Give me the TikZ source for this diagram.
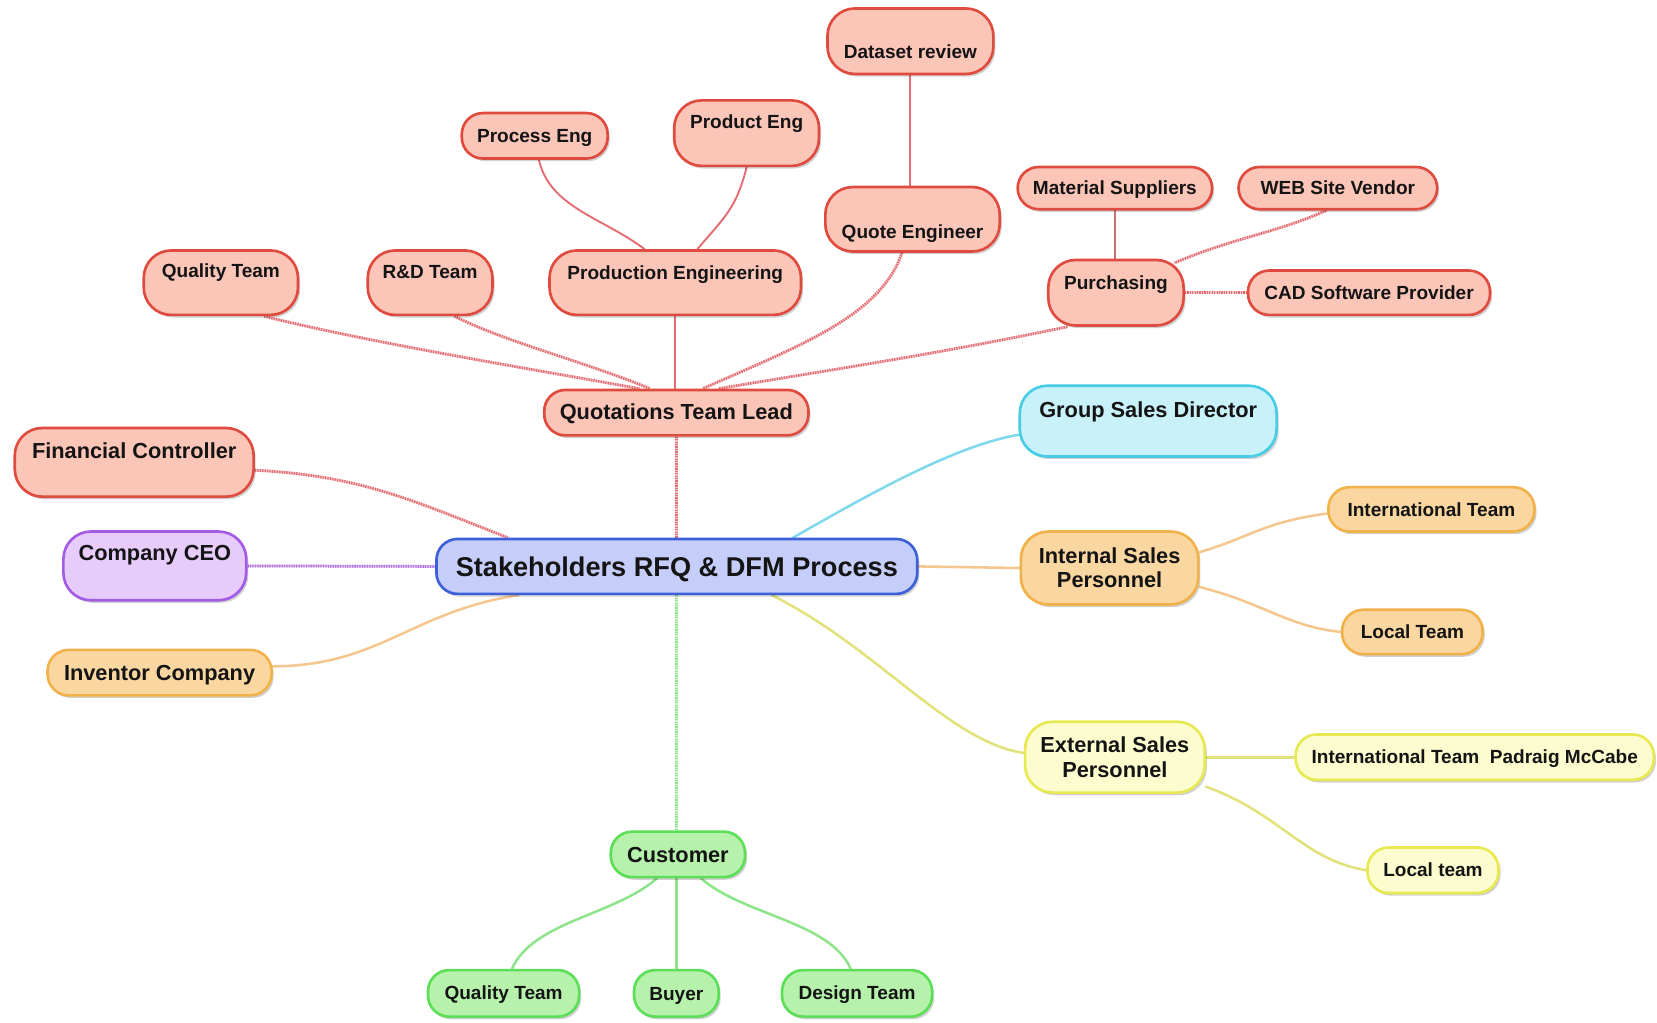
\documentclass[tikz,border=0pt]{standalone}
\usepackage{fontspec}
\setmainfont{Liberation Sans}
\usetikzlibrary{calc,shadows,backgrounds}

% box outlines and fills
\definecolor{redline}{HTML}{E04B3F}   \definecolor{redfill}{HTML}{FBC5B8}
\definecolor{blueline}{HTML}{3D5FD8}  \definecolor{bluefill}{HTML}{C5CDF9}
\definecolor{cyanline}{HTML}{45CDE6}  \definecolor{cyanfill}{HTML}{C9F1FA}
\definecolor{purpline}{HTML}{A35BE6}  \definecolor{purpfill}{HTML}{E6CBFB}
\definecolor{orline}{HTML}{F2B24A}    \definecolor{orfill}{HTML}{FAD6A0}
\definecolor{yelline}{HTML}{E8E850}   \definecolor{yelfill}{HTML}{FCFCCF}
\definecolor{grline}{HTML}{5CDE58}    \definecolor{grfill}{HTML}{B6F2AC}
% connector colours
\definecolor{redlink}{HTML}{E46C72}
\definecolor{cyanlink}{HTML}{7FD8EC}
\definecolor{purplink}{HTML}{B070E0}
\definecolor{orlink}{HTML}{F5C78E}
\definecolor{yellink}{HTML}{E2E27A}
\definecolor{grlink}{HTML}{8EE48A}

\tikzset{
  mmbox/.style={draw, rounded corners=20pt, line width=2.5pt, inner sep=0pt,
    text=black!92,
    drop shadow={shadow xshift=2pt, shadow yshift=-2.5pt, opacity=0.18, fill=black}},
  tall/.style={rounded corners=26pt},
  redbox/.style={mmbox, draw=redline, fill=redfill},
  bluebox/.style={mmbox, draw=blueline, fill=bluefill},
  cyanbox/.style={mmbox, draw=cyanline, fill=cyanfill},
  purpbox/.style={mmbox, draw=purpline, fill=purpfill},
  orbox/.style={mmbox, draw=orline, fill=orfill},
  yelbox/.style={mmbox, draw=yelline, fill=yelfill},
  grbox/.style={mmbox, draw=grline, fill=grfill},
  small/.style={font=\bfseries\fontsize{18}{21}\selectfont},
  mid/.style={font=\bfseries\fontsize{20.6}{23}\selectfont},
  big/.style={font=\bfseries\fontsize{25.7}{30}\selectfont},
  % width, space above the baseline, space below the baseline
  geo/.style n args={3}{minimum width=#1pt, text height=#2pt, text depth=#3pt, anchor=base},
  dotlink/.style={line width=2.6pt, color=#1, dash pattern=on 1.2pt off 1.1pt,
    preaction={draw, solid, line width=2.6pt, color=#1!40}},
  link/.style={line width=2.4pt, color=#1, line cap=round},
}

\begin{document}
\begin{tikzpicture}[x=1pt, y=-1pt]
\useasboundingbox (0,0) rectangle (1568,968);

% central topic
\node[bluebox, big, geo={455}{35.2}{16.8}] (center) at (640.5,545.2) {Stakeholders RFQ \& DFM Process};

% quotation branch
\node[redbox, mid, geo={250}{28.4}{14.6}] (qtl) at (640,397.4) {Quotations Team Lead};
\node[redbox, tall, small, geo={146}{25.5}{35.5}] (qualtop) at (209,262.5) {Quality Team};
\node[redbox, tall, small, geo={118}{26.5}{34.5}] (rnd) at (407,263.5) {R\&D Team};
\node[redbox, tall, small, geo={238}{27.5}{33.5}] (prodengg) at (639,264.5) {Production Engineering};
\node[redbox, small, geo={138}{27.5}{15.5}] (proceng) at (506,134.5) {Process Eng};
\node[redbox, tall, small, geo={137}{26.5}{35.5}] (prodeng) at (706.5,121.5) {Product Eng};
\node[redbox, tall, small, geo={165}{48.5}{12.5}] (quoteeng) at (863.5,225.5) {Quote Engineer};
\node[redbox, tall, small, geo={157}{47.5}{14.5}] (dataset) at (861.5,55.5) {Dataset review};
\node[redbox, tall, small, geo={128}{27.5}{34.5}] (purchasing) at (1056,273.5) {Purchasing};
\node[redbox, small, geo={184}{26.5}{13.5}] (matsup) at (1055,184.5) {Material Suppliers};
\node[redbox, small, geo={188}{26.5}{13.5}] (webvendor) at (1266,184.5) {WEB Site Vendor};
\node[redbox, small, geo={229}{27.5}{14.5}] (cad) at (1295.5,283.5) {CAD Software Provider};

% left branches
\node[redbox, tall, mid, geo={226}{28.4}{36.6}] (fc) at (127,433.4) {Financial Controller};
\node[purpbox, tall, mid, geo={173}{27.4}{37.6}] (ceo) at (146.5,530.4) {Company CEO};
\node[orbox, mid, geo={212}{29.4}{13.6}] (inventor) at (151,644.4) {Inventor Company};

% sales branches
\node[cyanbox, tall, mid, geo={243}{30.4}{36.6}] (gsd) at (1086.5,395.4) {Group Sales Director};
\node[orbox, tall, mid, align=center, minimum width=168pt, minimum height=69pt] (internal) at (1050,537.5) {Internal Sales\\Personnel};
\node[orbox, small, geo={195}{27.5}{14.5}] (intl1) at (1354.5,488.5) {International Team};
\node[orbox, small, geo={133}{27.5}{14.5}] (local1) at (1336.5,604.5) {Local Team};
\node[yelbox, tall, mid, align=center, minimum width=170pt, minimum height=67pt] (external) at (1055,716.5) {External Sales\\Personnel};
\node[yelbox, small, geo={339}{27.5}{15.5}] (intl2) at (1395.5,722.5) {International Team\ \ Padraig McCabe};
\node[yelbox, small, geo={124}{27.5}{15.5}] (local2) at (1356,829.5) {Local team};

% customer branch
\node[grbox, mid, geo={127}{29.4}{13.6}] (customer) at (641.5,816.4) {Customer};
\node[grbox, small, geo={143}{27.5}{16.5}] (qualbot) at (476.5,945.5) {Quality Team};
\node[grbox, small, geo={80}{28.5}{15.5}] (buyer) at (640,946.5) {Buyer};
\node[grbox, small, geo={142}{27.5}{16.5}] (design) at (811,945.5) {Design Team};

\begin{scope}[on background layer]
\fill[white] (0,0) rectangle (1568,968);

% links to the central topic
\draw[dotlink=redlink] (qtl.south) -- (qtl.south |- center.north);
\draw[dotlink=redlink] ($(fc.east)+(0,7.5)$) .. controls +(100,5) and +(-90,-35) .. ($(center.north)+(-160,0)$);
\draw[dotlink=purplink] (ceo.east) -- (center.west);
\draw[link=orlink] ($(inventor.east)+(0,-6)$) .. controls +(100,0) and +(-100,15) .. ($(center.south)+(-150,0)$);
\draw[link=cyanlink] ($(center.north)+(110,0)$) .. controls +(70,-40) and +(-60,10) .. ($(gsd.west)+(0,13)$);
\draw[link=orlink] (center.east) -- (internal.west);
\draw[link=yellink] ($(center.south)+(90,0)$) .. controls +(100,50) and +(-70,-10) .. ($(external.west)+(0,-4)$);
\draw[dotlink=grlink] (center.south) -- (center.south |- customer.north);

% quotation team
\draw[dotlink=redlink] ($(qualtop.south)+(41,0)$) .. controls +(100,25) and +(-110,-20) .. ($(qtl.north)+(-35,0)$);
\draw[dotlink=redlink] ($(rnd.south)+(23,0)$) .. controls +(50,25) and +(-60,-25) .. ($(qtl.north)+(-25,0)$);
\draw[link=redlink, line width=1.8pt] (prodengg.south) -- (prodengg.south |- qtl.north);
\draw[dotlink=redlink] ($(quoteeng.south)+(-10,0)$) .. controls +(-20,60) and +(90,-40) .. ($(qtl.north)+(25,0)$);
\draw[dotlink=redlink] ($(purchasing.south)+(-46,0)$) .. controls +(-120,25) and +(120,-20) .. ($(qtl.north)+(40,0)$);
\draw[link=redlink, line width=1.8pt] ($(proceng.south)+(4,0)$) .. controls +(10,45) and +(-40,-30) .. ($(prodengg.north)+(-29,0)$);
\draw[link=redlink, line width=1.8pt] (prodeng.south) .. controls +(-10,40) and +(25,-30) .. ($(prodengg.north)+(21,0)$);
\draw[link=redlink, line width=1.8pt] (dataset.south) -- (dataset.south |- quoteeng.north);
\draw[link=redlink!70!gray, line width=1.8pt] (matsup.south) -- (matsup.south |- purchasing.north);
\draw[dotlink=redlink] ($(webvendor.south)+(-11,0)$) .. controls +(-50,22) and +(60,-25) .. ($(purchasing.north east)+(-10,4)$);
\draw[dotlink=redlink] (purchasing.east) -- (cad.west);

% sales teams
\draw[link=orlink] ($(internal.east)+(0,-15)$) .. controls +(50,-15) and +(-60,8) .. ($(intl1.west)+(0,4)$);
\draw[link=orlink] ($(internal.east)+(0,18)$) .. controls +(60,15) and +(-50,-5) .. (local1.west);
\draw[link=yellink, line width=3pt] (external.east) -- (intl2.west);
\draw[link=yellink] ($(external.east)+(0,28)$) .. controls +(70,25) and +(-60,-10) .. (local2.west);

% customer side
\draw[link=grlink] ($(customer.south)+(-20,0)$) .. controls +(-40,35) and +(20,-45) .. ($(qualbot.north)+(8,0)$);
\draw[link=grlink] (buyer.north) -- (buyer.north |- customer.south);
\draw[link=grlink] ($(customer.south)+(22,0)$) .. controls +(40,35) and +(-20,-45) .. ($(design.north)+(-6,0)$);
\end{scope}
\end{tikzpicture}
\end{document}
